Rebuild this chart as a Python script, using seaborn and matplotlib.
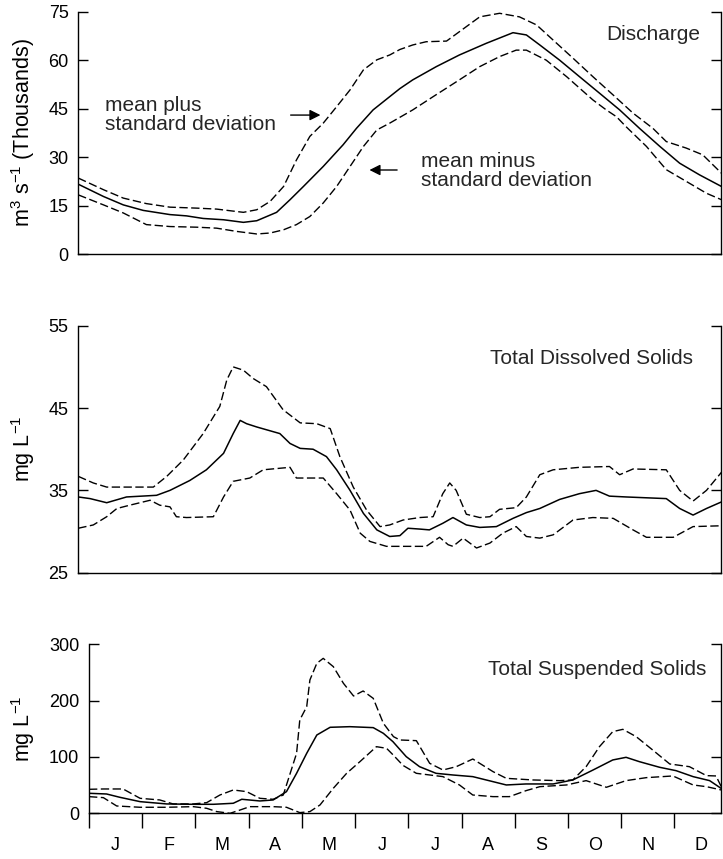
# seasonal discharge / TDS / TSS curves: mean with +/- one standard deviation
import numpy as np
import pandas as pd
import matplotlib
matplotlib.use("Agg")
import matplotlib.pyplot as plt
import seaborn as sns

# x values are in months from 1 January
months = ["J", "F", "M", "A", "M", "J", "J", "A", "S", "O", "N", "D"]

# Discharge (thousands of m3/s)
q_mean_x = [0, 0.47, 0.84, 1.21, 1.71, 2.02, 2.33, 2.71, 3.08, 3.33, 3.70, 3.95, 4.20, 4.57, 4.94,
            5.19, 5.50, 5.81, 6.00, 6.24, 6.68, 7.11, 7.61, 8.11, 8.36, 8.61, 8.98, 9.35, 9.73,
            10.10, 10.47, 10.85, 11.22, 11.59, 12.0]
q_mean_y = [21.6, 17.8, 15.2, 13.5, 12.2, 11.8, 11.0, 10.6, 9.8, 10.3, 12.9, 16.8, 20.9, 27.1, 33.8,
            38.9, 44.6, 48.7, 51.2, 53.9, 58.0, 61.6, 65.2, 68.5, 67.8, 64.7, 60.0, 54.9, 49.7,
            44.6, 38.9, 33.3, 28.1, 24.5, 20.9]
q_plus_x = [0, 0.47, 0.84, 1.27, 1.71, 2.21, 2.58, 3.08, 3.33, 3.58, 3.83, 4.07, 4.32, 4.57, 4.82,
            5.07, 5.32, 5.57, 5.81, 6.00, 6.24, 6.49, 6.87, 7.11, 7.49, 7.86, 8.23, 8.55, 8.86,
            9.23, 9.60, 9.98, 10.35, 10.72, 10.97, 11.34, 11.65, 12.0]
q_plus_y = [23.5, 19.9, 17.3, 15.6, 14.5, 14.2, 13.9, 12.9, 13.7, 16.3, 20.9, 29.1, 36.4, 40.5, 45.6,
            50.8, 57.0, 60.1, 61.6, 63.3, 64.7, 65.7, 65.9, 68.8, 73.4, 74.5, 73.4, 70.9, 66.2,
            60.6, 54.9, 49.2, 43.6, 38.9, 34.8, 32.8, 30.7, 25.0]
q_minus_x = [0, 0.47, 0.84, 1.27, 1.71, 2.21, 2.58, 2.95, 3.33, 3.58, 3.83, 4.07, 4.32, 4.57, 4.82,
             5.07, 5.32, 5.57, 5.81, 6.24, 6.62, 7.11, 7.49, 7.86, 8.17, 8.36, 8.73, 9.11, 9.60,
             9.85, 10.04, 10.22, 10.60, 10.97, 11.34, 11.72, 12.0]
q_minus_y = [18.3, 15.2, 12.7, 9.1, 8.5, 8.3, 8.0, 7.0, 6.2, 6.5, 7.5, 9.1, 11.6, 15.8, 20.9,
             27.1, 33.3, 38.4, 40.5, 44.6, 48.7, 53.9, 58.0, 61.1, 63.1, 63.1, 60.0, 54.9, 47.7,
             44.6, 42.5, 39.4, 33.3, 26.1, 22.5, 18.8, 16.8]

# Total dissolved solids (mg/L)
tds_mean_x = [0, 0.22, 0.53, 0.90, 1.46, 1.71, 2.08, 2.39, 2.71, 2.89, 3.02, 3.14, 3.33, 3.76, 3.95,
              4.14, 4.38, 4.63, 4.82, 5.07, 5.32, 5.57, 5.81, 6.00, 6.15, 6.37, 6.55, 6.80, 6.99,
              7.24, 7.49, 7.80, 8.11, 8.36, 8.61, 8.98, 9.35, 9.66, 9.91, 10.22, 10.97, 11.22,
              11.47, 11.72, 12.0]
tds_mean_y = [34.2, 34.0, 33.5, 34.2, 34.4, 35.0, 36.2, 37.5, 39.5, 41.9, 43.5, 43.1, 42.7, 41.9, 40.7,
              40.1, 40.0, 39.1, 37.5, 35.0, 32.2, 30.2, 29.4, 29.5, 30.4, 30.3, 30.2, 31.0, 31.7,
              30.8, 30.5, 30.6, 31.6, 32.3, 32.8, 33.9, 34.6, 35.0, 34.3, 34.2, 34.0, 32.8,
              32.0, 32.8, 33.6]
tds_plus_x = [0, 0.28, 0.53, 0.96, 1.40, 1.65, 1.96, 2.33, 2.64, 2.77, 2.89, 3.08, 3.26, 3.51, 3.82,
              4.14, 4.45, 4.70, 4.88, 5.13, 5.38, 5.63, 5.81, 6.06, 6.37, 6.62, 6.80, 6.93, 7.05,
              7.24, 7.49, 7.68, 7.86, 8.17, 8.36, 8.61, 8.86, 9.35, 9.91, 10.10, 10.35, 10.97,
              11.22, 11.47, 11.72, 12.0]
tds_plus_y = [36.7, 35.9, 35.4, 35.4, 35.4, 36.7, 38.7, 41.9, 45.2, 48.4, 50.0, 49.6, 48.6, 47.6, 44.8,
              43.2, 43.1, 42.5, 39.1, 35.4, 32.6, 30.6, 30.8, 31.4, 31.7, 31.8, 34.6, 35.9, 35.0,
              32.1, 31.7, 31.8, 32.7, 32.9, 34.2, 36.9, 37.5, 37.8, 37.9, 36.9, 37.6, 37.5,
              35.0, 33.7, 35.0, 37.2]
tds_minus_x = [0, 0.28, 0.53, 0.72, 0.96, 1.34, 1.52, 1.71, 1.83, 2.02, 2.52, 2.71, 2.89, 3.20, 3.45,
               3.95, 4.07, 4.57, 4.82, 5.07, 5.26, 5.44, 5.75, 6.49, 6.74, 6.90, 6.99, 7.18, 7.43,
               7.68, 7.92, 8.17, 8.36, 8.61, 8.86, 9.23, 9.60, 9.98, 10.35, 10.60, 11.10, 11.47, 12.0]
tds_minus_y = [30.4, 30.8, 31.8, 32.8, 33.2, 33.8, 33.2, 33.0, 31.8, 31.7, 31.8, 34.2, 36.1, 36.5, 37.5,
               37.8, 36.5, 36.5, 34.6, 32.6, 29.8, 28.8, 28.2, 28.2, 29.3, 28.4, 28.2, 29.2, 28.0,
               28.6, 29.8, 30.6, 29.4, 29.2, 29.6, 31.4, 31.7, 31.6, 30.2, 29.3, 29.3, 30.6, 30.7]

# Total suspended solids (mg/L)
tss_mean_x = [0, 0.33, 0.58, 0.96, 1.46, 1.96, 2.34, 2.71, 2.87, 3.21, 3.46, 3.71, 3.90, 4.09, 4.28,
              4.53, 4.90, 5.34, 5.53, 5.71, 5.96, 6.21, 6.52, 6.84, 7.21, 7.59, 7.84, 8.21, 8.72,
              9.09, 9.47, 9.84, 10.09, 10.34, 10.72, 11.03, 11.35, 11.66, 11.88]
tss_mean_y = [35.5, 34.3, 28.4, 20.7, 16.6, 16.0, 16.0, 17.8, 24.9, 21.9, 23.7, 38.5, 71.0, 106.5, 139.0,
              152.7, 153.8, 152.1, 142.0, 127.2, 100.6, 82.8, 71.0, 68.0, 65.1, 56.2, 50.3, 52.1, 52.1,
              59.2, 76.9, 94.7, 99.4, 91.7, 81.7, 75.7, 65.1, 58.0, 44.0]
tss_plus_x = [0, 0.27, 0.64, 0.96, 1.33, 1.58, 1.96, 2.21, 2.46, 2.71, 2.96, 3.21, 3.46, 3.65, 3.78,
              3.90, 3.96, 4.09, 4.15, 4.28, 4.40, 4.59, 4.78, 4.97, 5.15, 5.34, 5.53, 5.72, 5.84,
              6.15, 6.40, 6.65, 6.90, 7.21, 7.59, 7.84, 8.34, 8.84, 9.09, 9.34, 9.59, 9.84, 10.03,
              10.28, 10.59, 10.91, 11.28, 11.60, 11.78, 11.88]
tss_plus_y = [42.6, 43.2, 43.2, 26.6, 23.7, 16.6, 16.6, 18.9, 32.5, 41.4, 38.5, 26.6, 24.9, 32.5, 71.0,
              106.5, 165.7, 189.3, 236.7, 266.3, 275.1, 260.4, 230.8, 208.3, 217.2, 204.1, 159.8, 136.1, 130.2,
              129.0, 88.8, 76.9, 82.8, 96.4, 74.0, 62.1, 59.2, 58.0, 59.2, 82.8, 118.3, 145.0, 149.1,
              136.1, 112.4, 87.6, 82.8, 66.9, 66.3, 47.0]
tss_minus_x = [0, 0.27, 0.52, 0.96, 1.46, 1.96, 2.21, 2.40, 2.65, 2.84, 3.02, 3.46, 3.71, 3.96, 4.15,
               4.34, 4.59, 4.84, 5.09, 5.40, 5.59, 5.71, 5.90, 6.15, 6.65, 6.96, 7.21, 7.59, 7.90,
               8.21, 8.47, 8.97, 9.34, 9.72, 10.09, 10.47, 10.97, 11.35, 11.60, 11.88]
tss_minus_y = [29.6, 27.8, 13.0, 10.7, 10.7, 11.8, 8.9, 3.0, 0.0, 5.9, 11.8, 11.8, 10.7, 1.2, 3.0,
               14.8, 44.4, 71.0, 91.7, 118.3, 115.4, 104.0, 85.0, 71.0, 65.1, 50.3, 32.5, 29.6, 29.6,
               40.2, 47.3, 50.3, 58.0, 46.2, 58.0, 63.3, 66.3, 50.3, 47.3, 41.4]

DASH = (0, (6, 2.5))

sns.set_theme(style="ticks")
plt.rcParams["font.family"] = ["Liberation Sans", "DejaVu Sans"]
plt.rcParams["mathtext.fontset"] = "custom"
plt.rcParams["mathtext.rm"] = "Liberation Sans"
plt.rcParams["mathtext.it"] = "Liberation Sans"


def draw_band(ax, mx, my, px, py, lx, ly):
    sns.lineplot(x=mx, y=my, ax=ax, color="black", lw=1.1, estimator=None)
    sns.lineplot(x=px, y=py, ax=ax, color="black", lw=1.0, linestyle=DASH, estimator=None)
    sns.lineplot(x=lx, y=ly, ax=ax, color="black", lw=1.0, linestyle=DASH, estimator=None)


def style_axis(ax, ylim, yticks, ylabel, label_x):
    ax.set_ylim(*ylim)
    ax.set_yticks(yticks)
    ax.spines["top"].set_visible(False)
    for side in ["left", "right", "bottom"]:
        ax.spines[side].set_color("black")
        ax.spines[side].set_linewidth(1.0)
    ax.tick_params(axis="y", direction="in", length=7, width=1.0, color="black",
                   right=True, labelright=False, labelsize=13, pad=7, labelcolor="black")
    ax.set_ylabel(ylabel, fontsize=15.5, color="black")
    ax.yaxis.set_label_coords(label_x, 0.5)
    ax.set_xlabel("")


fig = plt.figure(figsize=(7.23, 8.59), dpi=100)
ax1 = fig.add_axes([0.1083, 0.7043, 0.8896, 0.2821])
ax2 = fig.add_axes([0.1083, 0.3333, 0.8896, 0.2875])
ax3 = fig.add_axes([0.1231, 0.0532, 0.8746, 0.1967])

# discharge
draw_band(ax1, q_mean_x, q_mean_y, q_plus_x, q_plus_y, q_minus_x, q_minus_y)
ax1.set_xlim(0, 12)
ax1.set_xticks([])
style_axis(ax1, (0, 75), [0, 15, 30, 45, 60, 75], r"m$^3$ s$^{-1}$ (Thousands)", -0.064)
ax1.text(0.9666, 0.904, "Discharge", transform=ax1.transAxes, ha="right", va="center", fontsize=15)
ax1.text(0.50, 43.0, "mean plus\nstandard deviation", ha="left", va="center",
         fontsize=15, linespacing=1.05)
ax1.annotate("", xy=(4.57, 43.0), xytext=(3.91, 43.0),
             arrowprops=dict(arrowstyle="-|>", color="black", lw=1.0, mutation_scale=16))
ax1.text(6.39, 25.7, "mean minus\nstandard deviation", ha="left", va="center",
         fontsize=15, linespacing=1.05)
ax1.annotate("", xy=(5.38, 26.0), xytext=(6.0, 26.0),
             arrowprops=dict(arrowstyle="-|>", color="black", lw=1.0, mutation_scale=16))

# total dissolved solids
draw_band(ax2, tds_mean_x, tds_mean_y, tds_plus_x, tds_plus_y, tds_minus_x, tds_minus_y)
ax2.set_xlim(0, 12)
ax2.set_xticks([])
style_axis(ax2, (25, 55), [25, 35, 45, 55], r"mg L$^{-1}$", -0.064)
ax2.text(0.9557, 0.867, "Total Dissolved Solids", transform=ax2.transAxes,
         ha="right", va="center", fontsize=15)

# total suspended solids
draw_band(ax3, tss_mean_x, tss_mean_y, tss_plus_x, tss_plus_y, tss_minus_x, tss_minus_y)
ax3.set_xlim(0, 11.88)
style_axis(ax3, (0, 300), [0, 100, 200, 300], r"mg L$^{-1}$", -0.082)
ax3.set_xticks(np.arange(0, 12))
ax3.set_xticklabels([])
ax3.set_xticks(np.arange(12) + 0.5, minor=True)
ax3.set_xticklabels(months, minor=True)
ax3.tick_params(axis="x", which="major", direction="out", length=11, width=1.0, color="black")
ax3.tick_params(axis="x", which="minor", length=0, pad=17, labelsize=13, labelcolor="black")
ax3.text(0.9758, 0.854, "Total Suspended Solids", transform=ax3.transAxes,
         ha="right", va="center", fontsize=15)

fig.savefig("out.png", dpi=100, facecolor="white")
